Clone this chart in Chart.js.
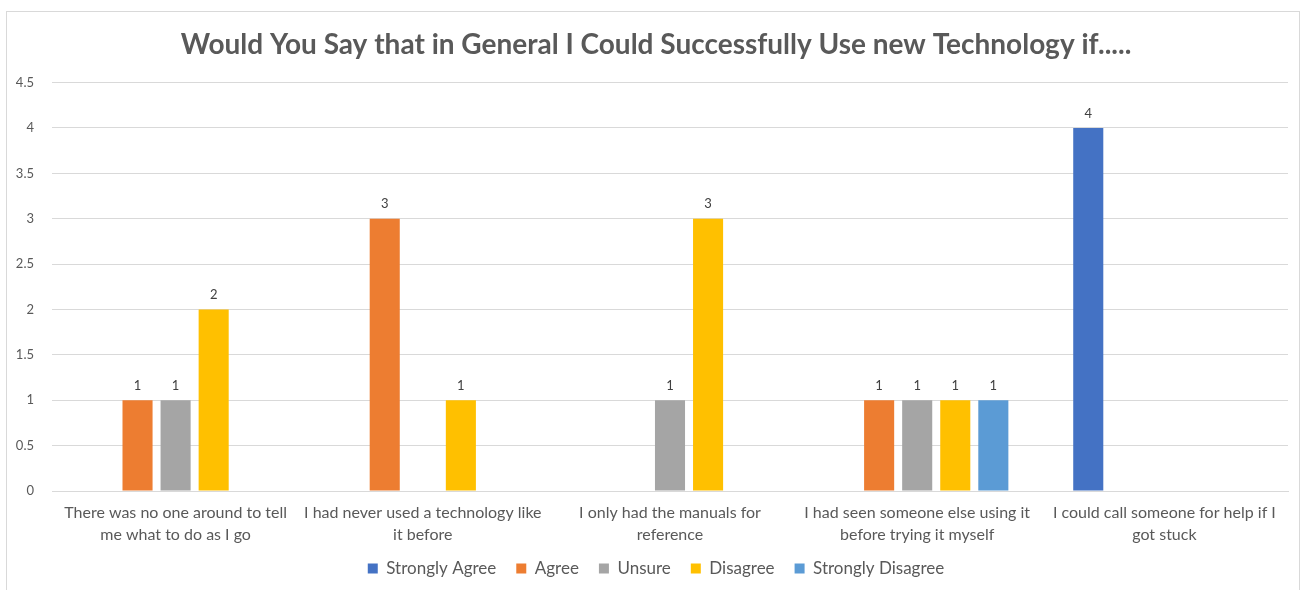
<!DOCTYPE html>
<html>
<head>
<meta charset="utf-8">
<script src="https://cdn.jsdelivr.net/npm/chart.js@4.4.0/dist/chart.umd.min.js"></script>
<style>
  html, body { margin: 0; padding: 0; background: #fff; }
  #caixa { position: absolute; left: 6px; top: 11px; width: 1292px; height: 600px; border: 1px solid #d9d9d9; }
  #grafico { position: absolute; left: 0; top: 0; }
</style>
</head>
<body>
<div id="caixa"></div>
<canvas id="grafico" width="1306" height="590"></canvas>
<script>
// Dados do gráfico
const categorias = [
  ["There was no one around to tell", "me what to do as I go"],
  ["I had never used a technology like", "it before"],
  ["I only had the manuals for", "reference"],
  ["I had seen someone else using it", "before trying it myself"],
  ["I could call someone for help if I", "got stuck"]
];
const stronglyAgree = [0, 0, 0, 0, 4];
const agree = [1, 3, 0, 1, 0];
const unsure = [1, 0, 1, 1, 0];
const disagree = [2, 1, 3, 1, 0];
const stronglyDisagree = [0, 0, 0, 1, 0];
const titulo = "Would You Say that in General I Could Successfully Use new Technology if.....";

const fonte = "Lato, 'Open Sans', sans-serif";
const cinzaTexto = "#595959";

// Plugin simples para os rótulos de valor em cima das barras
const rotulosValor = {
  id: "rotulosValor",
  afterDatasetsDraw(chart) {
    const ctx = chart.ctx;
    ctx.save();
    ctx.font = "13px " + fonte;
    ctx.fillStyle = "#404040";
    ctx.textAlign = "center";
    ctx.textBaseline = "bottom";
    chart.data.datasets.forEach((ds, i) => {
      const meta = chart.getDatasetMeta(i);
      meta.data.forEach((barra, j) => {
        const v = ds.data[j];
        if (v) ctx.fillText(String(v), barra.x, barra.y - 8);
      });
    });
    ctx.restore();
  }
};

// Deixa os rótulos do eixo x passarem um pouco para baixo sem serem cortados
const semCorteEixoX = {
  id: "semCorteEixoX",
  afterLayout(chart) {
    chart.scales.x.bottom += 14;
  }
};

const ctx = document.getElementById("grafico").getContext("2d");
new Chart(ctx, {
  type: "bar",
  data: {
    labels: categorias,
    datasets: [
      { label: "Strongly Agree", data: stronglyAgree, backgroundColor: "#4472C4" },
      { label: "Agree", data: agree, backgroundColor: "#ED7D31" },
      { label: "Unsure", data: unsure, backgroundColor: "#A5A5A5" },
      { label: "Disagree", data: disagree, backgroundColor: "#FFC000" },
      { label: "Strongly Disagree", data: stronglyDisagree, backgroundColor: "#5B9BD5" }
    ]
  },
  options: {
    responsive: false,
    animation: false,
    barPercentage: 0.79,
    categoryPercentage: 0.77,
    layout: { padding: { left: 6, right: 0, top: 0, bottom: 3 } },
    plugins: {
      title: {
        display: true,
        text: titulo,
        color: cinzaTexto,
        font: { family: fonte, size: 28, weight: "bold" },
        padding: { top: 28, bottom: 21 }
      },
      legend: {
        position: "bottom",
        labels: {
          color: cinzaTexto,
          font: { family: fonte, size: 17 },
          boxWidth: 10,
          boxHeight: 10,
          padding: 20
        }
      },
      tooltip: { enabled: false }
    },
    scales: {
      x: {
        grid: { display: false, drawTicks: false },
        border: { color: "#d9d9d9" },
        ticks: {
          color: cinzaTexto,
          font: { family: fonte, size: 16, lineHeight: 1.375 },
          padding: 11,
          maxRotation: 0,
          autoSkip: false
        },
        afterFit(scale) { scale.height = 49; }
      },
      y: {
        min: 0,
        max: 4.5,
        grid: { color: "#d9d9d9", drawTicks: false },
        border: { display: false },
        ticks: {
          stepSize: 0.5,
          color: cinzaTexto,
          font: { family: fonte, size: 13 },
          padding: 18,
          callback: (v) => String(v)
        },
        afterFit(scale) { scale.width = 46; }
      },
      // margem à direita da área do gráfico
      margemDireita: {
        position: "right",
        grid: { display: false, drawTicks: false },
        border: { display: false },
        ticks: { display: false },
        afterFit(scale) { scale.width = 18; }
      }
    }
  },
  plugins: [rotulosValor, semCorteEixoX]
});
</script>
</body>
</html>
